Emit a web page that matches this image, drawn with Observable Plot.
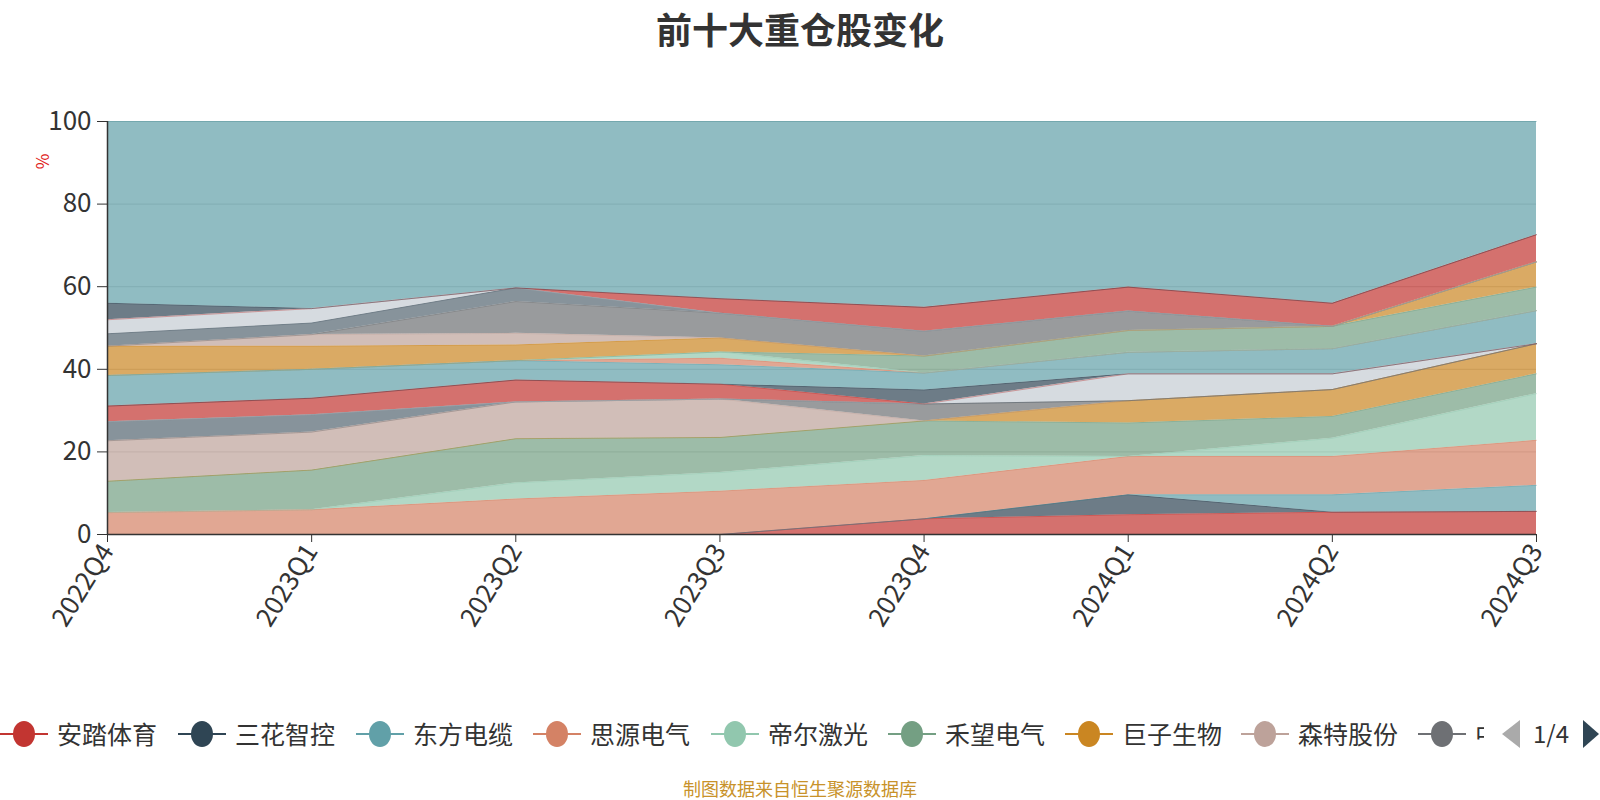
<!DOCTYPE html>
<html><head><meta charset="utf-8">
<script src="https://cdn.jsdelivr.net/npm/d3@7"></script>
<script src="https://cdn.jsdelivr.net/npm/@observablehq/plot@0.6"></script>
<style>
body{margin:0;background:#fff;font-family:"Noto Sans CJK SC","Noto Sans",sans-serif;}
#wrap{position:relative;width:1600px;height:800px;overflow:hidden;background:#fff;}
#chart{position:absolute;left:0;top:0;}
#title{position:absolute;top:2px;left:0;width:1600px;text-align:center;font-size:36px;font-weight:bold;color:#333;}
#unit{position:absolute;left:34px;top:149px;font-size:17px;color:#e0201a;transform:rotate(-90deg);transform-origin:center;}
.li{position:absolute;top:719px;height:30px;}
.li .ln{position:absolute;left:0;top:14px;width:48px;height:2px;}
.li .dot{position:absolute;left:13px;top:2px;width:22px;height:26px;border-radius:50%;}
.li .tx{position:absolute;left:57px;top:-4px;font-size:25px;color:#333;white-space:nowrap;}
#caption{position:absolute;top:775px;left:0;width:1600px;text-align:center;font-size:18px;color:#c8922a;}
#pager{position:absolute;left:1500px;top:718px;width:100px;height:32px;}
#pager .pl{position:absolute;left:2px;top:2px;width:0;height:0;border-top:14px solid transparent;border-bottom:14px solid transparent;border-right:18px solid #aaa;}
#pager .pr{position:absolute;left:83px;top:2px;width:0;height:0;border-top:14px solid transparent;border-bottom:14px solid transparent;border-left:16px solid #2f4554;}
#pager .pt{position:absolute;left:27px;top:-3px;width:48px;text-align:center;font-size:24px;color:#333;}
</style></head>
<body><div id="wrap"><div id="chart"></div><div id="title">前十大重仓股变化</div><div id="unit">%</div><div id="legend"></div><div id="caption">制图数据来自恒生聚源数据库</div>
<div id="pager"><div class="pl"></div><div class="pt">1/4</div><div class="pr"></div></div></div>
<script>
const quarters = ["2022Q4","2023Q1","2023Q2","2023Q3","2023Q4","2024Q1","2024Q2","2024Q3"];
const names = ["安踏体育","三花智控","东方电缆","思源电气","帝尔激光","禾望电气","巨子生物","森特股份","中际旭创",
  "持仓10","持仓11","持仓12","持仓13","持仓14","持仓15","持仓16","持仓17","持仓18","持仓19","持仓20",
  "持仓21","持仓22","持仓23","持仓24","其他"];
const s0  = [0,0,0,0,3.8,4.8,5.4,5.6];
const s1  = [0,0,0,0,0,4.8,0,0];
const s2  = [0,0,0,0,0,0,4.2,6.3];
const s3  = [5.3,6.0,8.6,10.5,9.3,9.3,9.3,10.9];
const s4  = [0,0,3.9,4.5,6.0,0,4.4,11.3];
const s5  = [7.6,9.6,10.7,8.5,8.4,8.1,5.3,4.8];
const s6  = [0,0,0,0,0,5.4,6.5,7.3];
const s7  = [9.8,9.2,8.9,9.3,0,0,0,0];
const s8  = [0,0,0,0,4.1,0,0,0];
const s9  = [4.6,4.2,0,0,0,0,0,0];
const s10 = [0,0,0,0,0,6.5,3.8,0];
const s11 = [3.8,4.0,5.3,3.6,0,0,0,0];
const s12 = [0,0,0,0,3.4,0,0,0];
const s13 = [7.4,7.0,4.7,4.7,4.1,5.2,6.1,8.0];
const s14 = [0,0,0,1.6,0,0,0,0];
const s15 = [0,0,0,1.5,0,0,0,0];
const s16 = [0,0,0,0,4.1,5.3,5.4,5.7];
const s17 = [7.1,5.6,3.8,3.4,0,0,0,6.1];
const s18 = [0,2.8,2.8,0,0,0,0,0];
const s19 = [0,0,7.7,6.0,6.0,4.7,0,0];
const s20 = [3.0,2.8,3.3,0,0,0,0,0];
const s21 = [3.4,3.5,0,0,0,0,0,0];
const s22 = [0,0,0,3.5,5.8,5.8,5.6,6.6];
const s23 = [4.0,0,0,0,0,0,0,0];
const s24 = [44.0,45.3,40.3,42.9,45.0,40.1,44.0,27.4];
const series = [s0,s1,s2,s3,s4,s5,s6,s7,s8,s9,s10,s11,s12,s13,s14,s15,s16,s17,s18,s19,s20,s21,s22,s23,s24];
const palette = ["#c23531","#2f4554","#61a0a8","#d48265","#91c7ae","#749f83","#ca8622","#bda29a","#6e7074","#546570","#c4ccd3"];
const yTicks = [0,20,40,60,80,100];

const rows = [];
series.forEach((vals, si) => vals.forEach((v, qi) => rows.push({name: names[si], qi, value: v})));
const colors = names.map((_, i) => palette[i % palette.length]);

const chart = Plot.plot({
  width: 1600, height: 800,
  marginLeft: 107, marginRight: 64, marginTop: 121, marginBottom: 266,
  style: {fontFamily: '"Noto Sans CJK SC","Noto Sans",sans-serif', fontSize: "24px", color: "#333", background: "transparent"},
  x: {domain: [0, quarters.length - 1]},
  y: {domain: [0, 100]},
  color: {domain: names, range: colors},
  marks: [
    Plot.ruleY(yTicks.filter(v => v > 0), {stroke: "#ccc", strokeWidth: 1}),
    Plot.areaY(rows, {x: "qi", y: "value", z: "name", fill: "name", fillOpacity: 0.7}),
    Plot.lineY(rows, Plot.stackY2({x: "qi", y: "value", z: "name", stroke: "name", strokeWidth: 0.8, strokeOpacity: 0.5})),
    Plot.axisY({ticks: yTicks, tickSize: 10, tickPadding: 6, fontSize: 26, label: null, stroke: "#333"}),
    Plot.axisX({ticks: d3.range(quarters.length), tickFormat: i => quarters[i], tickRotate: -58, tickSize: 8, tickPadding: 4, fontSize: 26, label: null, stroke: "#333"}),
    Plot.ruleX([0], {stroke: "#333", strokeWidth: 1.5}),
    Plot.ruleY([0], {stroke: "#333", strokeWidth: 1.5})
  ]
});
document.getElementById("chart").appendChild(chart);

const legendX = [0, 178, 356, 533, 711, 888, 1065, 1241, 1418];
const leg = document.getElementById("legend");
legendX.forEach((x, i) => {
  const d = document.createElement("div");
  d.className = "li";
  d.style.left = x + "px";
  const c = colors[i];
  const label = i === 8 ? names[i].slice(0, 1) : names[i];
  d.innerHTML = `<div class="ln" style="background:${c}"></div><div class="dot" style="background:${c}"></div><div class="tx">${label}</div>`;
  if (i === 8) { d.style.width = "66px"; d.style.overflow = "hidden"; }
  leg.appendChild(d);
});
</script>
</body></html>
